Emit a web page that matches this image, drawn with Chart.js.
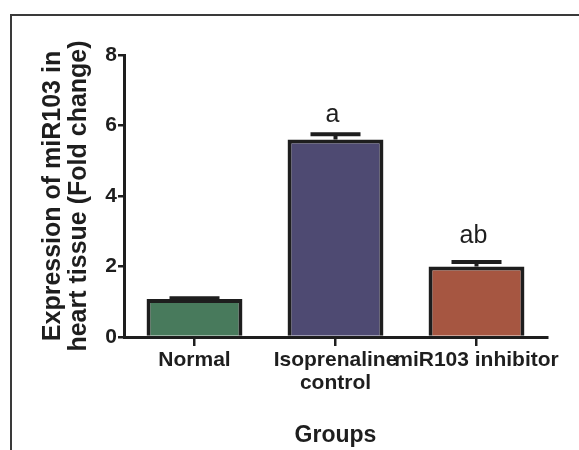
<!DOCTYPE html>
<html>
<head>
<meta charset="utf-8">
<script src="https://cdn.jsdelivr.net/npm/chart.js@4.4.0/dist/chart.umd.min.js"></script>
<style>
  html, body { margin: 0; padding: 0; background: #fff; }
  #wrap { position: relative; width: 579px; height: 450px; overflow: hidden; }
  #frame { position: absolute; left: 10px; top: 14px; width: 600px; height: 460px;
           border-top: 2px solid #3a3a3a; border-left: 2px solid #3a3a3a; }
  canvas { position: absolute; left: 0; top: 0; }
</style>
</head>
<body>
<div id="wrap">
  <div id="frame"></div>
  <canvas id="barChart" width="579" height="450"></canvas>
</div>
<script>
const groups = ['Normal', ['Isoprenaline', 'control'], 'miR103 inhibitor'];
const foldChange = [1.08, 5.6, 2.0];
const errors = [0.02, 0.15, 0.13];
const letters = ['', 'a', 'ab'];
const letterAt = [0, 6.1, 2.67];
const barColors = ['#487a5c', '#4e4a72', '#a65641'];
const yTicks = [0, 2, 4, 6, 8];

const ink = '#1e1e1e';
const fontFamily = "'Liberation Sans', Arial, sans-serif";

const errorBars = {
    id: 'errorBars',
    afterDatasetsDraw(chart) {
        const ctx = chart.ctx;
        const yScale = chart.scales.y;
        const meta = chart.getDatasetMeta(0);
        ctx.save();
        ctx.strokeStyle = ink;
        ctx.lineWidth = 4;
        meta.data.forEach((bar, i) => {
            const yTop = yScale.getPixelForValue(foldChange[i] + errors[i]);
            ctx.beginPath();
            ctx.moveTo(bar.x, bar.y);
            ctx.lineTo(bar.x, yTop);
            ctx.moveTo(bar.x - 25, yTop);
            ctx.lineTo(bar.x + 25, yTop);
            ctx.stroke();
            if (letters[i]) {
                ctx.fillStyle = ink;
                ctx.font = '25px ' + fontFamily;
                ctx.textAlign = 'center';
                ctx.textBaseline = 'alphabetic';
                ctx.fillText(letters[i], bar.x - 3, yScale.getPixelForValue(letterAt[i]));
            }
        });
        ctx.restore();
    }
};

const ctx = document.getElementById('barChart').getContext('2d');
new Chart(ctx, {
    type: 'bar',
    data: {
        labels: groups,
        datasets: [{
            data: foldChange,
            backgroundColor: barColors,
            borderColor: ink,
            borderWidth: 4,
            categoryPercentage: 1,
            barPercentage: 0.68
        }]
    },
    options: {
        responsive: false,
        animation: false,
        layout: { padding: { left: 38, right: 32, top: 55, bottom: 0 } },
        plugins: { legend: { display: false }, tooltip: { enabled: false } },
        scales: {
            x: {
                afterFit(scale) { scale.height = 113; },
                grid: { offset: false, drawOnChartArea: false, drawTicks: true, tickLength: 9, color: ink, lineWidth: 2.5 },
                border: { display: true, color: ink, width: 3 },
                ticks: { color: ink, padding: 3, maxRotation: 0, autoSkip: false,
                         font: { family: fontFamily, size: 21, weight: 'bold', lineHeight: 1.1 } },
                title: { display: true, text: 'Groups', color: ink, padding: { top: 0, bottom: 1 },
                         font: { family: fontFamily, size: 23, weight: 'bold', lineHeight: 1.13 } }
            },
            y: {
                min: 0,
                max: 8,
                afterFit(scale) { scale.width = 86; },
                afterBuildTicks(scale) { scale.ticks = yTicks.map(v => ({ value: v })); },
                grid: { drawOnChartArea: false, drawTicks: true, tickLength: 6, color: ink, lineWidth: 2.5 },
                border: { display: true, color: ink, width: 3 },
                ticks: { color: ink, padding: 1,
                         font: { family: fontFamily, size: 21, weight: 'bold' } },
                title: { display: true, text: ['Expression of miR103 in', 'heart tissue (Fold change)'], color: ink,
                         padding: { top: 2, bottom: 0 },
                         font: { family: fontFamily, size: 25, weight: 'bold', lineHeight: 1.05 } }
            }
        }
    },
    plugins: [errorBars]
});
</script>
</body>
</html>
